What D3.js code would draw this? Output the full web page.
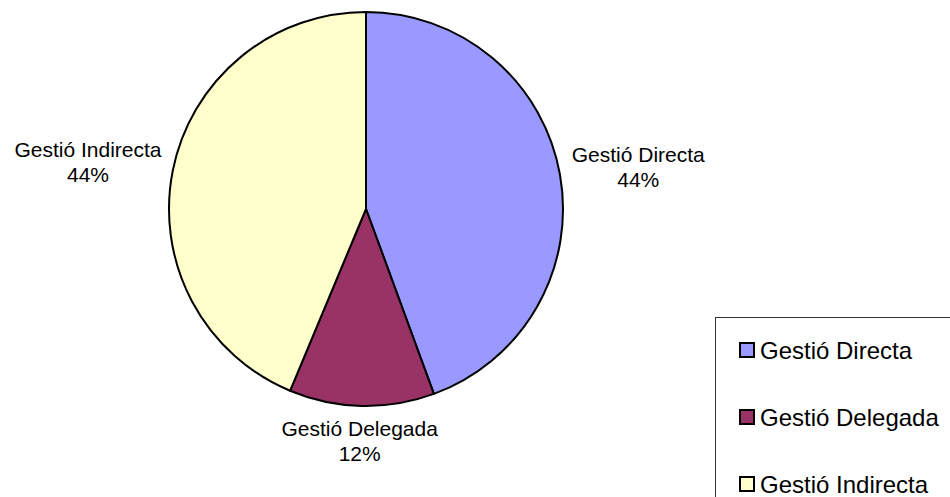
<!DOCTYPE html>
<html>
<head>
<meta charset="utf-8">
<script src="https://cdn.jsdelivr.net/npm/d3@7"></script>
<style>
  body { margin: 0; background: #fff; }
  text { font-family: "Liberation Sans", Arial, sans-serif; fill: #000; }
</style>
</head>
<body>
<div id="chart"></div>
<script>
// chart data
var categories = ["Gestió Directa", "Gestió Delegada", "Gestió Indirecta"];
var values = [44.4, 11.9, 43.7];
var pctLabels = ["44%", "12%", "44%"];
var colors = ["#9999FF", "#993366", "#FFFFCC"];

var svgWidth = 950;
var svgHeight = 497;

var cx = 366, cy = 209, radius = 197;

var svg = d3.select("#chart")
    .append("svg")
    .attr("width", svgWidth)
    .attr("height", svgHeight);

var pieGroup = svg.append("g")
    .attr("transform", `translate(${cx}, ${cy})`);

var pie = d3.pie().sort(null).value(d => d);
var arcs = pie(values);

var arc = d3.arc().innerRadius(0).outerRadius(radius);

// slices
pieGroup.selectAll("path")
    .data(arcs)
    .enter()
    .append("path")
    .attr("d", arc)
    .attr("fill", (d, i) => colors[i])
    .attr("stroke", "#000")
    .attr("stroke-width", 2)
    .attr("stroke-linejoin", "round");

// labels outside the pie, block pushed out from a point just past the rim
var labelSize = 21;
var gapX = 13, gapY = 8;
var labels = pieGroup.selectAll(".lbl")
    .data(arcs)
    .enter()
    .append("text")
    .attr("class", "lbl")
    .attr("text-anchor", "middle")
    .style("font-size", labelSize + "px");

labels.each(function (d, i) {
    var t = d3.select(this);
    t.append("tspan").text(categories[i]);
    var w = this.getComputedTextLength();
    var h = 56;
    var mid = (d.startAngle + d.endAngle) / 2;
    var s = Math.sin(mid), c = Math.cos(mid);
    var x = s * (radius + gapX) + s * w / 2;
    var y = -c * (radius + gapY) - c * h / 2;
    t.select("tspan").attr("x", x).attr("y", y - 6);
    t.append("tspan").attr("x", x).attr("y", y + 19).text(pctLabels[i]);
});

// legend
var legend = svg.append("g")
    .attr("transform", "translate(715, 317)");

legend.append("rect")
    .attr("x", 0.5)
    .attr("y", 0.5)
    .attr("width", 260)
    .attr("height", 220)
    .attr("fill", "#fff")
    .attr("stroke", "#333")
    .attr("stroke-width", 1);

var rows = legend.selectAll(".row")
    .data(categories)
    .enter()
    .append("g")
    .attr("class", "row")
    .attr("transform", (d, i) => `translate(25, ${26 + i * 67})`);

rows.append("rect")
    .attr("width", 14)
    .attr("height", 14)
    .attr("fill", (d, i) => colors[i])
    .attr("stroke", "#000")
    .attr("stroke-width", 2);

rows.append("text")
    .attr("x", 20)
    .attr("y", 16)
    .style("font-size", "24px")
    .text(d => d);
</script>
</body>
</html>
